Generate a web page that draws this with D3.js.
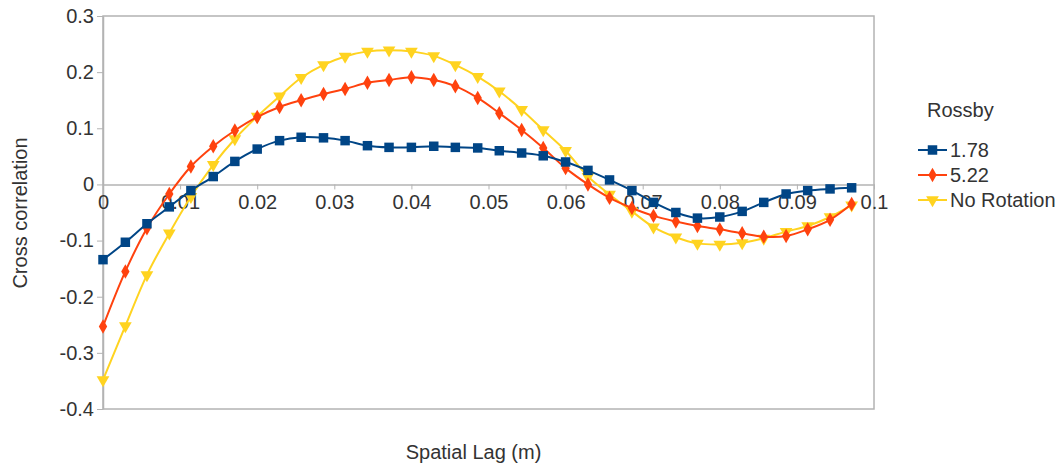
<!DOCTYPE html>
<html>
<head>
<meta charset="utf-8">
<script src="https://cdn.jsdelivr.net/npm/d3@7"></script>
<style>
  html, body { margin: 0; padding: 0; background: #fff; }
  svg { display: block; }
  text { font-family: "Liberation Sans", Arial, sans-serif; fill: #333; }
</style>
</head>
<body>
<svg id="chart" width="1063" height="466"></svg>
<script>
// Spatial lag (m) at which each cross correlation was evaluated
const lags = [0, 0.0029, 0.0057, 0.0086, 0.0114, 0.0143, 0.0171, 0.02, 0.0229, 0.0257,
  0.0286, 0.0314, 0.0343, 0.0371, 0.04, 0.0429, 0.0457, 0.0486, 0.0514, 0.0543,
  0.0571, 0.06, 0.0629, 0.0657, 0.0686, 0.0714, 0.0743, 0.0771, 0.08, 0.0829,
  0.0857, 0.0886, 0.0914, 0.0943, 0.0971];

// Cross correlation for each Rossby number
const rossby178 = [-0.134, -0.103, -0.070, -0.040, -0.011, 0.014, 0.041, 0.063, 0.078, 0.084,
  0.083, 0.078, 0.069, 0.066, 0.066, 0.068, 0.066, 0.065, 0.060, 0.056,
  0.051, 0.040, 0.025, 0.008, -0.011, -0.032, -0.050, -0.060, -0.058, -0.048,
  -0.032, -0.017, -0.011, -0.008, -0.006];
const rossby522 = [-0.253, -0.155, -0.078, -0.017, 0.032, 0.068, 0.096, 0.120, 0.138, 0.150,
  0.161, 0.170, 0.181, 0.186, 0.191, 0.186, 0.175, 0.154, 0.127, 0.097,
  0.065, 0.029, 0.000, -0.024, -0.042, -0.056, -0.066, -0.074, -0.080, -0.087,
  -0.093, -0.092, -0.080, -0.063, -0.035];
const noRotation = [-0.348, -0.252, -0.161, -0.087, -0.022, 0.035, 0.081, 0.121, 0.157, 0.190,
  0.213, 0.228, 0.237, 0.239, 0.237, 0.229, 0.213, 0.192, 0.166, 0.133,
  0.097, 0.060, 0.014, -0.018, -0.048, -0.076, -0.094, -0.105, -0.107, -0.104,
  -0.096, -0.084, -0.074, -0.058, -0.037];

const xTicks = [0, 0.01, 0.02, 0.03, 0.04, 0.05, 0.06, 0.07, 0.08, 0.09, 0.1];
const yTicks = [-0.4, -0.3, -0.2, -0.1, 0, 0.1, 0.2, 0.3];

const seriesNames = ["1.78", "5.22", "No Rotation"];
const seriesColors = ["#004586", "#ff420e", "#ffd320"];
const seriesValues = [rossby178, rossby522, noRotation];

const svg = d3.select("#chart");
const plot = { left: 103, right: 874, top: 16, bottom: 409 };

const x = d3.scaleLinear().domain([0, 0.1]).range([plot.left, plot.right]);
const y = d3.scaleLinear().domain([-0.4, 0.3]).range([plot.bottom, plot.top]);

// Plain labels with an ASCII hyphen for negatives
const fmt = v => (v === 0 ? "0" : String(+v.toFixed(2)));

// Plot area border
svg.append("rect")
  .attr("x", plot.left).attr("y", plot.top)
  .attr("width", plot.right - plot.left).attr("height", plot.bottom - plot.top)
  .attr("fill", "none").attr("stroke", "#b3b3b3").attr("stroke-width", 1.5);

// Y axis on the left edge
const yAxis = svg.append("g")
  .attr("transform", `translate(${plot.left},0)`)
  .call(d3.axisLeft(y).tickValues(yTicks).tickFormat(fmt).tickSize(6).tickPadding(3).tickSizeOuter(0));
yAxis.select(".domain").attr("stroke", "#b3b3b3").attr("stroke-width", 1.5);
yAxis.selectAll(".tick line").attr("stroke", "#b3b3b3");
yAxis.selectAll(".tick text").style("font-size", "20px").attr("fill", "#333");

// X axis crossing at zero correlation
const xAxis = svg.append("g")
  .attr("transform", `translate(0,${y(0)})`)
  .call(d3.axisBottom(x).tickValues(xTicks).tickFormat(fmt).tickSize(5).tickPadding(5).tickSizeOuter(0));
xAxis.select(".domain").attr("stroke", "#b3b3b3").attr("stroke-width", 1.5);
xAxis.selectAll(".tick line").attr("stroke", "#b3b3b3");
xAxis.selectAll(".tick text").style("font-size", "20px").attr("fill", "#333");

// Axis titles
svg.append("text")
  .attr("x", (plot.left + plot.right) / 2 - 15).attr("y", 459)
  .attr("text-anchor", "middle").style("font-size", "20px")
  .text("Spatial Lag (m)");
svg.append("text")
  .attr("transform", `translate(27,213) rotate(-90)`)
  .attr("text-anchor", "middle").style("font-size", "20px")
  .text("Cross correlation");

// Marker shapes per series
const symbols = [
  d3.symbol().type(d3.symbolSquare).size(90),
  d3.symbol().type(d3.symbolDiamond).size(60),
  d3.symbol().type(d3.symbolTriangle).size(70)
];
const symbolRotate = [0, 0, 180];

const line = d3.line()
  .x(d => x(d[0]))
  .y(d => y(d[1]))
  .curve(d3.curveCatmullRom.alpha(0.5));

// Draw series back to front so the first series sits on top
for (let s = seriesValues.length - 1; s >= 0; s--) {
  const pts = lags.map((l, i) => [l, seriesValues[s][i]]);
  const g = svg.append("g");
  g.append("path")
    .datum(pts)
    .attr("d", line)
    .attr("fill", "none")
    .attr("stroke", seriesColors[s])
    .attr("stroke-width", 2);
  g.selectAll("path.marker")
    .data(pts)
    .join("path")
    .attr("class", "marker")
    .attr("d", symbols[s])
    .attr("transform", d => `translate(${x(d[0])},${y(d[1])}) rotate(${symbolRotate[s]})`)
    .attr("fill", seriesColors[s]);
}

// Legend
const legend = svg.append("g");
legend.append("text")
  .attr("x", 927).attr("y", 117)
  .style("font-size", "20px")
  .text("Rossby");
const legendY = [150, 175, 200];
seriesNames.forEach((name, s) => {
  const row = legend.append("g").attr("transform", `translate(0,${legendY[s]})`);
  row.append("line")
    .attr("x1", 918).attr("x2", 947).attr("y1", 0).attr("y2", 0)
    .attr("stroke", seriesColors[s]).attr("stroke-width", 2);
  row.append("path")
    .attr("d", symbols[s])
    .attr("transform", `translate(932.5,0) rotate(${symbolRotate[s]})`)
    .attr("fill", seriesColors[s]);
  row.append("text")
    .attr("x", 950).attr("y", 7)
    .style("font-size", "20px")
    .text(name);
});
</script>
</body>
</html>
